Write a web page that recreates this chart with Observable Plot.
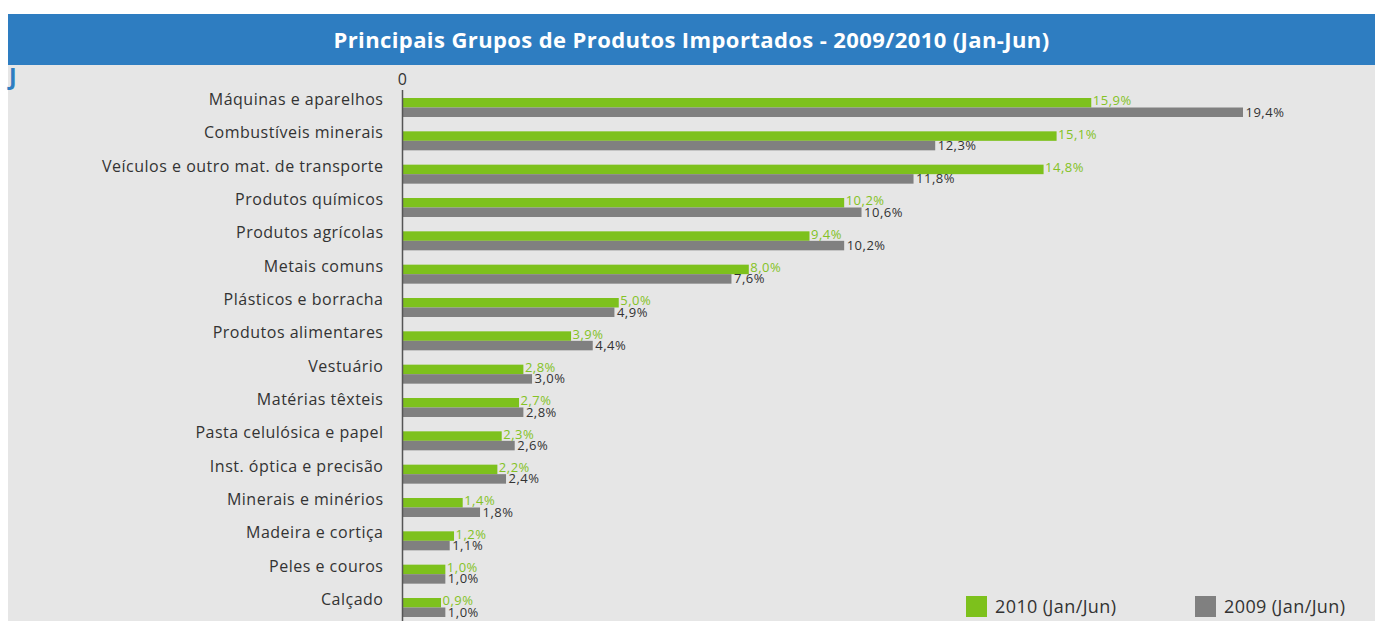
<!DOCTYPE html>
<html>
<head>
<meta charset="utf-8">
<script src="https://cdn.jsdelivr.net/npm/d3@7"></script>
<script src="https://cdn.jsdelivr.net/npm/@observablehq/plot@0.6"></script>
<style>
  html, body { margin: 0; padding: 0; background: #ffffff; width: 1375px; height: 621px; overflow: hidden; }
  #panel { position: absolute; left: 8px; top: 14px; width: 1367px; height: 607px; font-family: "Open Sans", "Noto Sans", sans-serif; }
  #title { height: 51px; line-height: 51px; background: #2e7dc1; color: #fff; font-weight: bold; font-size: 22px; text-align: center; letter-spacing: 0.4px; }
  #body { position: absolute; top: 51px; left: 0; width: 1367px; height: 556px; background: #e6e6e6; }
  #j { position: absolute; left: 1px; top: -5px; color: #2e7dc1; font-weight: bold; font-size: 23px; }
  #chart { position: absolute; left: 0; top: 0; }
  #chart svg text { letter-spacing: 0.5px; }
  .leg { position: absolute; top: 529px; display: flex; align-items: center; font-size: 18px; letter-spacing: 0.4px; color: #333; }
  .leg span.sw { display: inline-block; width: 21px; height: 21px; margin-right: 8px; }
</style>
</head>
<body>
<div id="panel">
  <div id="title">Principais Grupos de Produtos Importados - 2009/2010 (Jan-Jun)</div>
  <div id="body">
    <div id="j">J</div>
    <div id="chart"></div>
    <div id="legend"></div>
  </div>
</div>
<script>
const categories = [
  "Máquinas e aparelhos",
  "Combustíveis minerais",
  "Veículos e outro mat. de transporte",
  "Produtos químicos",
  "Produtos agrícolas",
  "Metais comuns",
  "Plásticos e borracha",
  "Produtos alimentares",
  "Vestuário",
  "Matérias têxteis",
  "Pasta celulósica e papel",
  "Inst. óptica e precisão",
  "Minerais e minérios",
  "Madeira e cortiça",
  "Peles e couros",
  "Calçado"
];
const values2010 = [15.9, 15.1, 14.8, 10.2, 9.4, 8.0, 5.0, 3.9, 2.8, 2.7, 2.3, 2.2, 1.4, 1.2, 1.0, 0.9];
const values2009 = [19.4, 12.3, 11.8, 10.6, 10.2, 7.6, 4.9, 4.4, 3.0, 2.8, 2.6, 2.4, 1.8, 1.1, 1.0, 1.0];
const seriesNames = ["2010 (Jan/Jun)", "2009 (Jan/Jun)"];
const seriesColors = ["#7dc11c", "#808080"];
const labelColors = ["#84c225", "#333333"];

const data = categories.map((c, i) => ({category: c, v2010: values2010[i], v2009: values2009[i]}));
const fmt = v => v.toFixed(1).replace(".", ",") + "%";

const half = 9.5;
const chart = Plot.plot({
  width: 1367,
  height: 556,
  marginTop: 25,
  marginBottom: 0,
  marginLeft: 394,
  marginRight: 132,
  style: {background: "transparent", fontFamily: "'Open Sans', 'Noto Sans', sans-serif", overflow: "visible"},
  x: {domain: [0, 19.4], axis: null, label: null},
  y: {domain: categories, range: [33, 552], paddingInner: 0.43, paddingOuter: 0, axis: null, label: null, round: false},
  marks: [
    Plot.barX(data, {x: "v2010", y: "category", fill: seriesColors[0], insetBottom: half}),
    Plot.barX(data, {x: "v2009", y: "category", fill: seriesColors[1], insetTop: half}),
    Plot.text(data, {x: "v2010", y: "category", text: d => fmt(d.v2010), textAnchor: "start", dx: 1, dy: -7, fill: labelColors[0], fontSize: 13}),
    Plot.text(data, {x: "v2009", y: "category", text: d => fmt(d.v2009), textAnchor: "start", dx: 2, dy: 4.5, fill: labelColors[1], fontSize: 13}),
    Plot.ruleX([0], {stroke: "#555", strokeWidth: 1.5}),
    Plot.axisX({anchor: "top", ticks: [0], tickSize: 0, tickPadding: 6, fontSize: 16, fill: "#333", label: null, tickFormat: d => String(d)}),
    Plot.axisY({anchor: "left", tickSize: 0, tickPadding: 19, dy: -8, fontSize: 16, fill: "#333", label: null})
  ]
});
document.getElementById("chart").appendChild(chart);

const legend = document.getElementById("legend");
const legX = [958, 1187];
seriesNames.forEach((name, i) => {
  const d = document.createElement("div");
  d.className = "leg";
  d.style.left = legX[i] + "px";
  d.innerHTML = `<span class="sw" style="background:${seriesColors[i]}"></span><span>${name}</span>`;
  legend.appendChild(d);
});
</script>
</body>
</html>
